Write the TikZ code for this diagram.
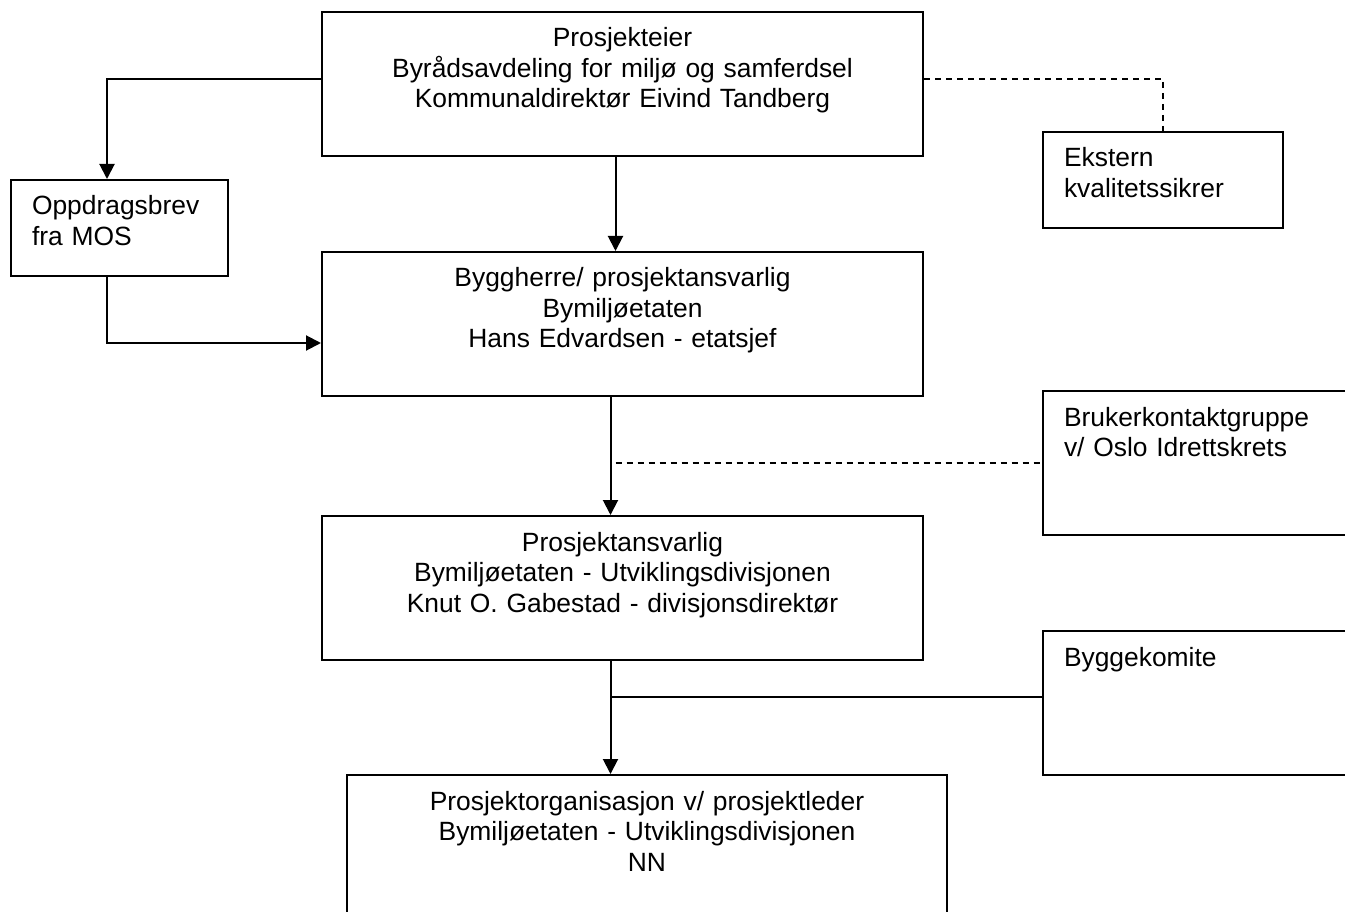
\documentclass[tikz,border=0pt]{standalone}
\usepackage{fontspec}
\setmainfont{Liberation Sans}
\usetikzlibrary{arrows.meta}

\begin{document}
\begin{tikzpicture}[x=1pt, y=-1pt, line width=2pt,
    every node/.style={font=\fontsize{26.4}{30.5}\selectfont},
    unit/.style={draw, anchor=north west, inner sep=0pt, text height=35pt, align=center},
    side/.style={draw, anchor=north west, inner ysep=0pt, inner xsep=21pt, text height=35pt, align=left},
    arr/.style={-{Triangle[length=15pt,width=15pt]}},
    dash line/.style={dash pattern=on 6pt off 5pt, line width=1.6pt}]
  \useasboundingbox (0,0) rectangle (1345,912);
  \clip (0,0) rectangle (1345,912);
  \node[unit, text width=601pt, text depth=109pt] (eier) at (321,11)
    {Prosjekteier\\Byrådsavdeling for miljø og samferdsel\\Kommunaldirektør Eivind Tandberg};
  \node[side, text width=198pt, text depth=61pt] (ekstern) at (1042,131) {Ekstern\\kvalitetssikrer};
  \node[side, text width=175pt, text depth=61pt] (oppdrag) at (10,179) {Oppdragsbrev\\fra MOS};
  \node[unit, text width=601pt, text depth=109pt] (byggherre) at (321,251)
    {Byggherre/ prosjektansvarlig\\Bymiljøetaten\\Hans Edvardsen - etatsjef};
  \node[side, text width=300pt, text depth=109pt] (bruker) at (1042,390)
    {Brukerkontaktgruppe\\v/ Oslo Idrettskrets};
  \node[unit, text width=601pt, text depth=109pt] (ansvarlig) at (321,515)
    {Prosjektansvarlig\\Bymiljøetaten - Utviklingsdivisjonen\\Knut O. Gabestad - divisjonsdirektør};
  \node[side, text width=300pt, text depth=109pt] (komite) at (1042,630) {Byggekomite};
  \node[unit, text width=600pt, text depth=130pt] (prorg) at (346,774)
    {Prosjektorganisasjon v/ prosjektleder\\Bymiljøetaten - Utviklingsdivisjonen\\NN};
  % connectors
  \draw[arr] ([yshift=5]eier.west) -| ([xshift=-12.5]oppdrag.north);
  \draw[arr] ([xshift=-7]eier.south) -- ([xshift=-7]byggherre.north);
  \draw[arr] ([xshift=-12.5]oppdrag.south) |- ([yshift=-19]byggherre.west);
  \draw[dash line] ([yshift=5]eier.east) -| (ekstern.north);
  \draw[arr] ([xshift=-12]byggherre.south) -- ([xshift=-12]ansvarlig.north);
  \draw[dash line] ([xshift=-7]byggherre.south |- bruker.west) -- (bruker.west);
  \draw[arr] ([xshift=-12]ansvarlig.south) -- ([xshift=-12]ansvarlig.south |- prorg.north);
  \draw ([xshift=-12,yshift=6]ansvarlig.south |- komite.west) -- ([yshift=6]komite.west);
\end{tikzpicture}
\end{document}
